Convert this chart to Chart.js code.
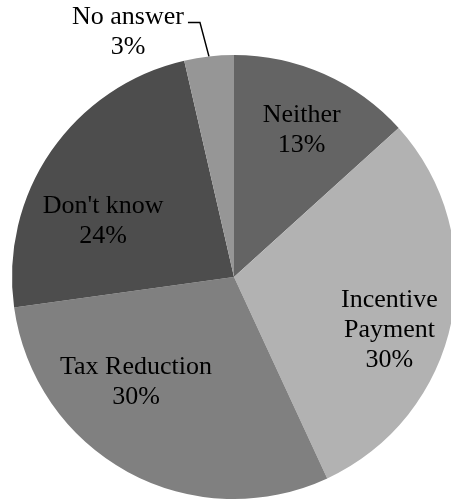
<!DOCTYPE html>
<html>
<head>
<meta charset="utf-8">
<script src="https://cdn.jsdelivr.net/npm/chart.js@4.4.0/dist/chart.umd.min.js"></script>
<style>
  html, body { margin: 0; padding: 0; background: #fff; overflow: hidden; }
  #wrap { width: 460px; height: 501px; }
</style>
</head>
<body>
<div id="wrap"><canvas id="pieChart" width="460" height="501"></canvas></div>
<script>
const categories = ["Neither", ["Incentive", "Payment"], "Tax Reduction", "Don't know", "No answer"];
const shares = [13.3, 29.8, 29.7, 23.6, 3.6];
const percentText = ["13%", "30%", "30%", "24%", "3%"];

const sliceColors = ["#646464", "#b2b2b2", "#808080", "#4d4d4d", "#969696"];
// label placement: fraction of radius, angle shift (deg) from slice middle
const labelRadius = [0.737, 0.737, 0.64, 0.645, 0];
const labelShift = [0.5, 6.7, 15, -10.6, 0];
const labelOutside = [false, false, false, false, true];

const FONT = "26px 'Liberation Serif', 'Times New Roman', serif";
const LINE = 30;

const sliceLabels = {
  id: "sliceLabels",
  afterDatasetsDraw(chart) {
    const c = chart.ctx;
    const arcs = chart.getDatasetMeta(0).data;
    c.save();
    c.font = FONT;
    c.fillStyle = "#000";
    c.textAlign = "center";
    c.textBaseline = "alphabetic";
    arcs.forEach((arc, i) => {
      const p = arc.getProps(["x", "y", "startAngle", "endAngle", "outerRadius"], true);
      const name = categories[i];
      const lines = (Array.isArray(name) ? name : [name]).concat([percentText[i]]);
      const mid = (p.startAngle + p.endAngle) / 2;
      if (labelOutside[i]) {
        // leader line from edge, elbow, then text to the left
        const ex = p.x + Math.cos(mid) * p.outerRadius;
        const ey = p.y + Math.sin(mid) * p.outerRadius;
        const kx = ex - 9, ky = ey - 34;
        c.strokeStyle = "#000";
        c.lineWidth = 1.5;
        c.beginPath();
        c.moveTo(ex, ey);
        c.lineTo(kx, ky);
        c.lineTo(kx - 12, ky);
        c.stroke();
        const w = c.measureText(lines[0]).width;
        const cx = kx - 16 - w / 2;
        lines.forEach((t, j) => c.fillText(t, cx, ky + 2 + j * LINE));
        return;
      }
      const a = mid + labelShift[i] * Math.PI / 180;
      const r = p.outerRadius * labelRadius[i];
      const cx = p.x + Math.cos(a) * r;
      const cy = p.y + Math.sin(a) * r;
      lines.forEach((t, j) => {
        c.fillText(t, cx, cy + (j - (lines.length - 1) / 2) * LINE + 9);
      });
    });
    c.restore();
  },
};

new Chart(document.getElementById("pieChart").getContext("2d"), {
  type: "pie",
  data: {
    labels: categories,
    datasets: [
      {
        data: shares,
        backgroundColor: sliceColors,
        borderWidth: 0,
      },
    ],
  },
  options: {
    responsive: false,
    animation: false,
    layout: {
      padding: { top: 55, bottom: 2, left: 12, right: 4 },
    },
    plugins: {
      legend: { display: false },
      tooltip: { enabled: false },
    },
  },
  plugins: [sliceLabels],
});
</script>
</body>
</html>
